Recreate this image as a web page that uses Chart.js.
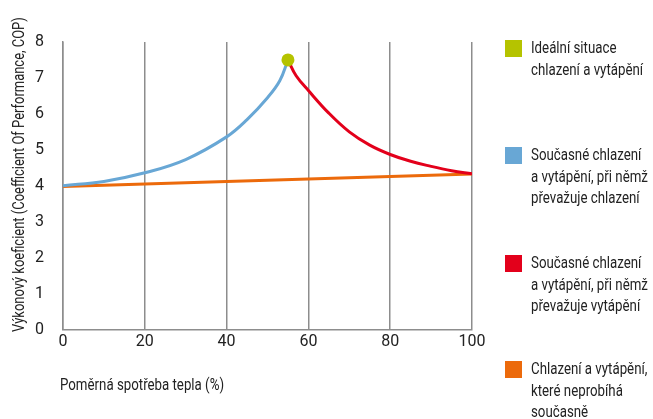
<!DOCTYPE html>
<html>
<head>
<meta charset="utf-8">
<script src="https://cdn.jsdelivr.net/npm/chart.js@4/dist/chart.umd.min.js"></script>
<style>
  html, body { margin: 0; padding: 0; background: #fff; }
  #wrap { position: relative; width: 653px; height: 419px; overflow: hidden;
          font-family: Roboto, "Liberation Sans", sans-serif; color: #222; }
  #c { position: absolute; left: 0; top: 0; }
  .narrow { display: inline-block; white-space: nowrap; transform-origin: 0 50%;
            transform: scaleX(0.83); }
  .lg-item { position: absolute; left: 505px; width: 150px; }
  .lg-box { position: absolute; left: 0; width: 17px; height: 17px; }
  .lg-text { position: absolute; left: 26px; top: 0; font-size: 16px; line-height: 21.7px; }
  .lg-text .narrow { display: block; }
  #xtitle { position: absolute; left: 60px; top: 375px; font-size: 16px; line-height: 20px; }
  #ytitle { position: absolute; left: 9px; top: 332px; font-size: 16px; line-height: 20px;
            white-space: nowrap; transform-origin: 0 0; transform: rotate(-90deg) scaleX(0.81); }
</style>
</head>
<body>
<div id="wrap">
  <canvas id="c" width="653" height="419"></canvas>
  <div id="xtitle"><span class="narrow">Poměrná spotřeba tepla (%)</span></div>
  <div id="ytitle">Výkonový koeficient (Coefficient Of Performance, COP)</div>
  <div id="legend"></div>
</div>
<script>
// Axis ticks
const xTicks = [0, 20, 40, 60, 80, 100];
const yTicks = [0, 1, 2, 3, 4, 5, 6, 7, 8];

// Ideal point: simultaneous cooling and heating
const idealX = [55];
const idealY = [7.5];

// Simultaneous operation, cooling dominant
const coolingX = [0, 10, 20, 30, 40, 45, 50, 53, 55];
const coolingY = [4.0, 4.12, 4.36, 4.73, 5.36, 5.84, 6.45, 6.92, 7.5];

// Simultaneous operation, heating dominant
const heatingX = [55, 57, 60, 65, 70, 75, 80, 85, 90, 95, 100];
const heatingY = [7.5, 7.06, 6.65, 6.02, 5.5, 5.13, 4.87, 4.68, 4.54, 4.42, 4.33];

// Cooling and heating not running at the same time
const separateX = [0, 100];
const separateY = [3.98, 4.33];

const seriesLabels = [
  ['Ideální situace', 'chlazení a vytápění'],
  ['Současné chlazení', 'a vytápění, při němž', 'převažuje chlazení'],
  ['Současné chlazení', 'a vytápění, při němž', 'převažuje vytápění'],
  ['Chlazení a vytápění,', 'které neprobíhá', 'současně']
];
const seriesColors = ['#b5c300', '#68a7d5', '#e3001b', '#ec6a0b'];

const FONT = 'Roboto, "Liberation Sans", sans-serif';
const TEXT = '#222222';
const GRID = '#8d8d8d';

const pts = (xs, ys) => xs.map((x, i) => ({ x: x, y: ys[i] }));

const lineStyle = (color) => ({
  borderColor: color,
  backgroundColor: color,
  borderWidth: 3,
  pointRadius: 0,
  fill: false,
  tension: 0.4
});

const chart = new Chart(document.getElementById('c'), {
  type: 'line',
  data: {
    datasets: [
      Object.assign({ label: seriesLabels[3].join(' '), data: pts(separateX, separateY), order: 4 }, lineStyle(seriesColors[3])),
      Object.assign({ label: seriesLabels[1].join(' '), data: pts(coolingX, coolingY), order: 3 }, lineStyle(seriesColors[1])),
      Object.assign({ label: seriesLabels[2].join(' '), data: pts(heatingX, heatingY), order: 2 }, lineStyle(seriesColors[2])),
      {
        label: seriesLabels[0].join(' '),
        data: pts(idealX, idealY),
        showLine: false,
        pointRadius: 6.5,
        pointHoverRadius: 6.5,
        pointBorderWidth: 0,
        pointBackgroundColor: seriesColors[0],
        backgroundColor: seriesColors[0],
        borderColor: seriesColors[0],
        order: 1
      }
    ]
  },
  options: {
    responsive: false,
    animation: false,
    devicePixelRatio: 1,
    layout: { padding: { left: 0, top: 42, right: 181, bottom: 0 } },
    plugins: {
      legend: { display: false },
      tooltip: { enabled: false }
    },
    scales: {
      x: {
        type: 'linear',
        min: 0,
        max: 100,
        afterBuildTicks: (s) => { s.ticks = xTicks.map(v => ({ value: v })); },
        afterFit: (s) => { s.height = 89.5; },
        ticks: { color: TEXT, font: { family: FONT, size: 16 }, padding: 3 },
        grid: { color: GRID, lineWidth: 1.5, drawTicks: false },
        border: { color: GRID, width: 1.5 }
      },
      y: {
        min: 0,
        max: 8,
        afterBuildTicks: (s) => { s.ticks = yTicks.map(v => ({ value: v })); },
        afterFit: (s) => { s.width = 63; },
        ticks: { color: TEXT, font: { family: FONT, size: 16 }, padding: 11 },
        grid: { display: false },
        border: { color: GRID, width: 1.5 }
      }
    }
  }
});

// Legend on the right, one block per series
const legendBoxTops = [40, 147, 255, 361];
const legend = document.getElementById('legend');
seriesLabels.forEach((lines, i) => {
  const item = document.createElement('div');
  item.className = 'lg-item';
  item.style.top = (legendBoxTops[i] - 3) + 'px';
  const box = document.createElement('div');
  box.className = 'lg-box';
  box.style.top = '3px';
  box.style.background = seriesColors[i];
  const txt = document.createElement('div');
  txt.className = 'lg-text';
  lines.forEach((l) => {
    const s = document.createElement('span');
    s.className = 'narrow';
    s.textContent = l;
    txt.appendChild(s);
  });
  item.appendChild(box);
  item.appendChild(txt);
  legend.appendChild(item);
});
</script>
</body>
</html>
